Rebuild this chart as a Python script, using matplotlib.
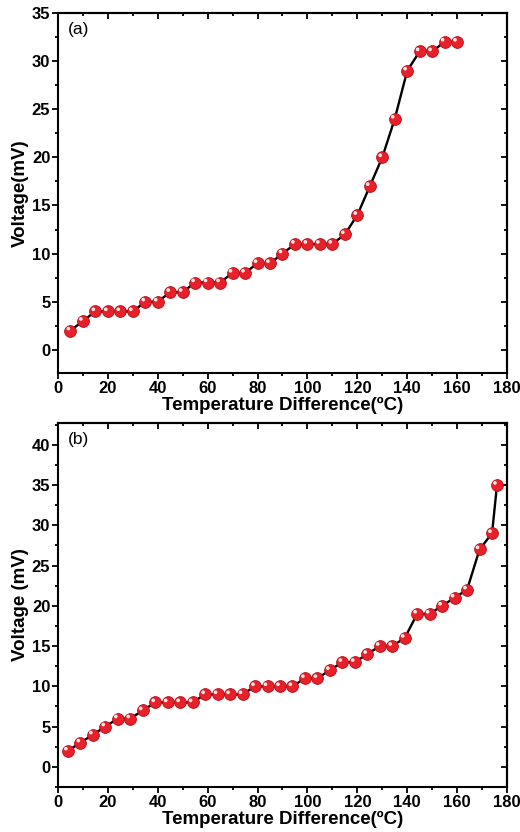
import numpy as np
import matplotlib
matplotlib.use('Agg')
import matplotlib.pyplot as plt
from matplotlib.ticker import MultipleLocator
from matplotlib.transforms import offset_copy

plt.rcParams['font.family'] = ['Liberation Sans', 'DejaVu Sans']

# Data (a)
temp_a = [5, 10, 15, 20, 25, 30, 35, 40, 45, 50, 55, 60, 65, 70, 75, 80,
          85, 90, 95, 100, 105, 110, 115, 120, 125, 130, 135, 140, 145, 150, 155, 160]
volt_a = [2, 3, 4, 4, 4, 4, 5, 5, 6, 6, 7, 7, 7, 8, 8, 9,
          9, 10, 11, 11, 11, 11, 12, 14, 17, 20, 24, 29, 31, 31, 32, 32]

# Data (b)
temp_b = [4, 9, 14, 19, 24, 29, 34, 39, 44, 49, 54, 59, 64, 69, 74, 79, 84, 89,
          94, 99, 104, 109, 114, 119, 124, 129, 134, 139, 144, 149, 154, 159, 164, 169, 174, 176]
volt_b = [2, 3, 4, 5, 6, 6, 7, 8, 8, 8, 8, 9, 9, 9, 9, 10, 10, 10,
          10, 11, 11, 12, 13, 13, 14, 15, 15, 16, 19, 19, 20, 21, 22, 27, 29, 35]

fig = plt.figure(figsize=(5.2, 8.32), dpi=100)
ax_a = fig.add_axes([0.1115, 0.5517, 0.8635, 0.4327])
ax_b = fig.add_axes([0.1115, 0.0541, 0.8635, 0.4375])


def draw_panel(ax, x, y, ylim, ylabel, tag):
    ax.plot(x, y, color='black', lw=1.7, zorder=2)
    ax.scatter(x, y, s=72, color='#e8202a', edgecolors='#b01018', linewidths=0.6, zorder=3)
    hl = offset_copy(ax.transData, fig=fig, x=-1.5, y=1.5, units='points')
    ax.scatter(x, y, s=7, color='#ffe8e8', edgecolors='none', transform=hl, zorder=4)

    ax.set_xlim(0, 180)
    ax.set_ylim(*ylim)
    ax.xaxis.set_major_locator(MultipleLocator(20))
    ax.xaxis.set_minor_locator(MultipleLocator(10))
    ax.yaxis.set_major_locator(MultipleLocator(5))
    ax.yaxis.set_minor_locator(MultipleLocator(2.5))

    for s in ax.spines.values():
        s.set_linewidth(1.5)
    ax.tick_params(which='both', direction='out', width=1.3, labelsize=12, pad=1.5)
    ax.tick_params(which='major', length=4)
    ax.tick_params(which='minor', length=2.2)
    for lab in ax.get_xticklabels() + ax.get_yticklabels():
        lab.set_fontweight('bold')

    # mirrored inward ticks on top and right
    sec_x = ax.secondary_xaxis('top')
    sec_x.xaxis.set_major_locator(MultipleLocator(20))
    sec_x.xaxis.set_minor_locator(MultipleLocator(10))
    sec_x.tick_params(which='both', direction='in', width=1.3, labeltop=False)
    sec_x.tick_params(which='major', length=4)
    sec_x.tick_params(which='minor', length=2.2)
    sec_x.spines['top'].set_linewidth(1.5)
    sec_y = ax.secondary_yaxis('right')
    sec_y.yaxis.set_major_locator(MultipleLocator(5))
    sec_y.yaxis.set_minor_locator(MultipleLocator(2.5))
    sec_y.tick_params(which='both', direction='in', width=1.3, labelright=False)
    sec_y.tick_params(which='major', length=4)
    sec_y.tick_params(which='minor', length=2.2)
    sec_y.spines['right'].set_linewidth(1.5)

    ax.set_xlabel('Temperature Difference(\u00baC)', fontsize=13.5, fontweight='bold', labelpad=1)
    ax.set_ylabel(ylabel, fontsize=13.5, fontweight='bold', labelpad=2)
    ax.text(0.022, 0.975, tag, transform=ax.transAxes, fontsize=12.5, va='top', ha='left')


draw_panel(ax_a, temp_a, volt_a, (-2.4, 35), 'Voltage(mV)', '(a)')
draw_panel(ax_b, temp_b, volt_b, (-2.5, 42.7), 'Voltage (mV)', '(b)')

fig.savefig('out.png', dpi=100)
